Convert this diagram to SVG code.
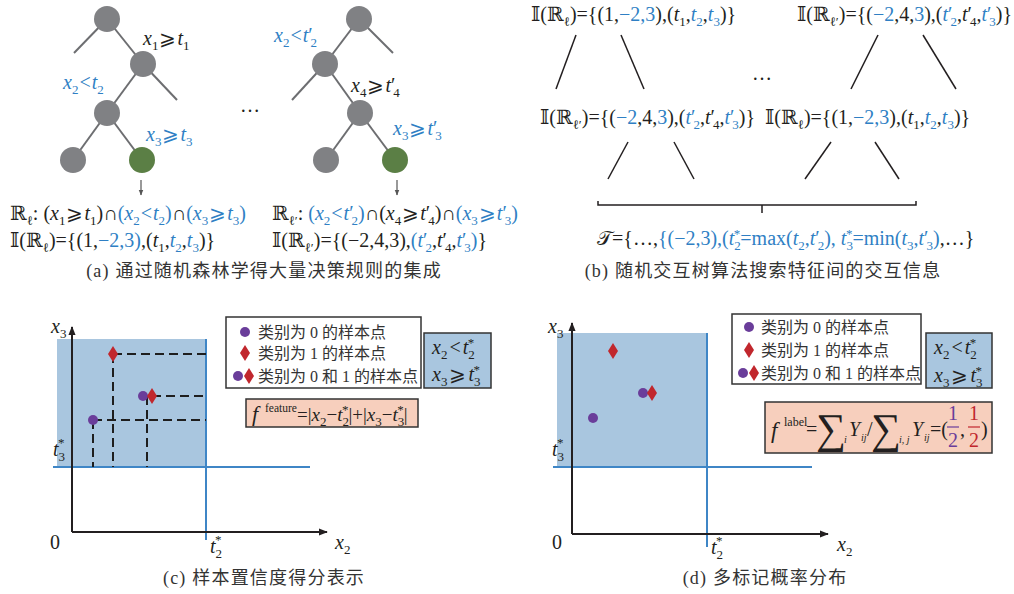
<svg xmlns="http://www.w3.org/2000/svg" width="1014" height="594" viewBox="0 0 1014 594">
<style>
.m{font-family:"Liberation Serif","DejaVu Serif",serif;font-size:20px;fill:#231f20}
.i{font-style:italic}
.s{font-size:13px}
.b{fill:#2f7fc4}
.cap{font-family:"Liberation Serif","Noto Sans CJK SC",serif;font-size:18px;fill:#333;letter-spacing:1.2px}
.lg{font-family:"Liberation Serif","Noto Sans CJK SC",serif;font-size:16px;fill:#333}
.node{fill:#808184}
.leaf{fill:#5b7f45}
.edge{stroke:#6d6e71;stroke-width:2;fill:none}
.ln{stroke:#231f20;stroke-width:1.5;fill:none}
.dash{stroke:#1e1e1e;stroke-width:2;stroke-dasharray:9 5;fill:none}
.area{fill:#a9c6df}
.bl{stroke:#3f86c6;stroke-width:2;fill:none}
.ax{stroke:#231f20;stroke-width:2;fill:none}
.p0{fill:#6a3d9a}
.p1{fill:#c1272d}
.box{stroke:#333;stroke-width:1.5}
</style>
<defs>
<marker id="ah" viewBox="0 0 10 10" refX="9" refY="5" markerUnits="userSpaceOnUse" markerWidth="9" markerHeight="9" orient="auto"><path d="M0,1 L10,5 L0,9 z" fill="#231f20"/></marker>
<marker id="ah2" viewBox="0 0 10 10" refX="9" refY="5" markerUnits="userSpaceOnUse" markerWidth="6" markerHeight="6" orient="auto"><path d="M0,1 L10,5 L0,9 z" fill="#555"/></marker>
</defs>

<g id="connectors">
<line class="edge" x1="107" y1="19" x2="74" y2="53"/>
<line class="edge" x1="107" y1="19" x2="143" y2="64"/>
<line class="edge" x1="143" y1="64" x2="107" y2="113"/>
<line class="edge" x1="143" y1="64" x2="177" y2="100"/>
<line class="edge" x1="107" y1="113" x2="73" y2="160"/>
<line class="edge" x1="107" y1="113" x2="142" y2="160"/>
<line class="edge" x1="359" y1="19" x2="325" y2="64"/>
<line class="edge" x1="359" y1="19" x2="393" y2="53"/>
<line class="edge" x1="325" y1="64" x2="292" y2="100"/>
<line class="edge" x1="325" y1="64" x2="360" y2="113"/>
<line class="edge" x1="360" y1="113" x2="326" y2="160"/>
<line class="edge" x1="360" y1="113" x2="395" y2="160"/>
<line stroke="#555" stroke-width="1.2" x1="141" y1="180" x2="141" y2="195" marker-end="url(#ah2)"/>
<line stroke="#555" stroke-width="1.2" x1="397" y1="180" x2="397" y2="195" marker-end="url(#ah2)"/>
<line class="ln" x1="576" y1="35" x2="556" y2="89"/>
<line class="ln" x1="621" y1="35" x2="644" y2="89"/>
<line class="ln" x1="878" y1="35" x2="851" y2="89"/>
<line class="ln" x1="923" y1="35" x2="956" y2="89"/>
<line class="ln" x1="628" y1="142" x2="608" y2="179"/>
<line class="ln" x1="674" y1="142" x2="694" y2="179"/>
<line class="ln" x1="831" y1="142" x2="805" y2="179"/>
<line class="ln" x1="875" y1="142" x2="899" y2="179"/>
<path class="ln" d="M598,201 V205 H916 V201 M762,205 V213"/>
</g>

<g id="t1-root"><circle class="node" cx="107" cy="19" r="13"/></g>
<g id="t1-n2"><circle class="node" cx="143" cy="64" r="13"/></g>
<g id="t1-n3"><circle class="node" cx="107" cy="113" r="13"/></g>
<g id="t1-l1"><circle class="node" cx="73" cy="160" r="13"/></g>
<g id="t1-l2"><circle class="leaf" cx="142" cy="160" r="13"/></g>
<g id="t2-root"><circle class="node" cx="359" cy="19" r="13"/></g>
<g id="t2-n2"><circle class="node" cx="325" cy="64" r="13"/></g>
<g id="t2-n3"><circle class="node" cx="360" cy="113" r="13"/></g>
<g id="t2-l1"><circle class="node" cx="326" cy="160" r="13"/></g>
<g id="t2-l2"><circle class="leaf" cx="395" cy="160" r="13"/></g>

<g id="tree-labels">
<text class="m" x="143" y="45"><tspan class="i">x</tspan><tspan class="s" dy="5">1</tspan><tspan dx="1" dy="-5">⩾</tspan><tspan class="i" dx="1">t</tspan><tspan class="s" dy="5">1</tspan></text>
<text class="m b" x="63" y="89"><tspan class="i">x</tspan><tspan class="s" dy="5">2</tspan><tspan dx="1" dy="-5">&lt;</tspan><tspan class="i" dx="1">t</tspan><tspan class="s" dy="5">2</tspan></text>
<text class="m b" x="146" y="141"><tspan class="i">x</tspan><tspan class="s" dy="5">3</tspan><tspan dx="1" dy="-5">⩾</tspan><tspan class="i" dx="1">t</tspan><tspan class="s" dy="5">3</tspan></text>
<text class="m b" x="274" y="42"><tspan class="i">x</tspan><tspan class="s" dy="5">2</tspan><tspan dx="1" dy="-5">&lt;</tspan><tspan class="i" dx="1">t</tspan>′<tspan class="s" dx="-2" dy="5">2</tspan></text>
<text class="m" x="351" y="92"><tspan class="i">x</tspan><tspan class="s" dy="5">4</tspan><tspan dx="1" dy="-5">⩾</tspan><tspan class="i" dx="1">t</tspan>′<tspan class="s" dx="-2" dy="5">4</tspan></text>
<text class="m b" x="393" y="135"><tspan class="i">x</tspan><tspan class="s" dy="5">3</tspan><tspan dx="1" dy="-5">⩾</tspan><tspan class="i" dx="1">t</tspan>′<tspan class="s" dx="-2" dy="5">3</tspan></text>
<text class="m" x="240" y="112">…</text>
</g>

<g id="rules-a">
<text class="m" x="10" y="220">ℝ<tspan class="s" dy="5">ℓ</tspan><tspan dy="-5">: (</tspan><tspan class="i">x</tspan><tspan class="s" dy="5">1</tspan><tspan dx="1" dy="-5">⩾</tspan><tspan class="i" dx="1">t</tspan><tspan class="s" dy="5">1</tspan><tspan dy="-5">)∩</tspan><tspan class="b">(<tspan class="i">x</tspan><tspan class="s" dy="5">2</tspan><tspan dx="1" dy="-5">&lt;</tspan><tspan class="i" dx="1">t</tspan><tspan class="s" dy="5">2</tspan><tspan dy="-5">)</tspan></tspan>∩<tspan class="b">(<tspan class="i">x</tspan><tspan class="s" dy="5">3</tspan><tspan dx="1" dy="-5">⩾</tspan><tspan class="i" dx="1">t</tspan><tspan class="s" dy="5">3</tspan><tspan dy="-5">)</tspan></tspan></text>
<text class="m" x="10" y="247">𝕀(ℝ<tspan class="s" dy="5">ℓ</tspan><tspan dy="-5">)={(1,</tspan><tspan class="b">−2,3)</tspan>,(<tspan class="i">t</tspan><tspan class="s" dy="5">1</tspan><tspan dy="-5">,</tspan><tspan class="b i">t</tspan><tspan class="b s" dy="5">2</tspan><tspan dy="-5">,</tspan><tspan class="b i">t</tspan><tspan class="b s" dy="5">3</tspan><tspan dy="-5">)}</tspan></text>
<text class="m" x="272" y="220">ℝ<tspan class="s" dy="5">ℓ′</tspan><tspan dy="-5">: </tspan><tspan class="b">(<tspan class="i">x</tspan><tspan class="s" dy="5">2</tspan><tspan dx="1" dy="-5">&lt;</tspan><tspan class="i" dx="1">t</tspan>′<tspan class="s" dx="-2" dy="5">2</tspan><tspan dy="-5">)</tspan></tspan>∩(<tspan class="i">x</tspan><tspan class="s" dy="5">4</tspan><tspan dx="1" dy="-5">⩾</tspan><tspan class="i" dx="1">t</tspan>′<tspan class="s" dx="-2" dy="5">4</tspan><tspan dy="-5">)∩</tspan><tspan class="b">(<tspan class="i">x</tspan><tspan class="s" dy="5">3</tspan><tspan dx="1" dy="-5">⩾</tspan><tspan class="i" dx="1">t</tspan>′<tspan class="s" dx="-2" dy="5">3</tspan><tspan dy="-5">)</tspan></tspan></text>
<text class="m" x="272" y="247">𝕀(ℝ<tspan class="s" dy="5">ℓ′</tspan><tspan dy="-5">)={(−2,4,3),</tspan><tspan class="b">(<tspan class="i">t</tspan>′<tspan class="s" dx="-2" dy="5">2</tspan></tspan><tspan dy="-5">,</tspan><tspan class="i">t</tspan>′<tspan class="s" dx="-2" dy="5">4</tspan><tspan dy="-5">,</tspan><tspan class="b"><tspan class="i">t</tspan>′<tspan class="s" dx="-2" dy="5">3</tspan><tspan dy="-5">)</tspan></tspan>}</text>
<text class="cap" x="264" y="277" text-anchor="middle">(a) 通过随机森林学得大量决策规则的集成</text>
</g>

<g id="b-top-left"><text class="m" x="531" y="21">𝕀(ℝ<tspan class="s" dy="5">ℓ</tspan><tspan dy="-5">)={(1,</tspan><tspan class="b">−2,3</tspan>),(<tspan class="i">t</tspan><tspan class="s" dy="5">1</tspan><tspan dy="-5">,</tspan><tspan class="b i">t</tspan><tspan class="b s" dy="5">2</tspan><tspan dy="-5">,</tspan><tspan class="b i">t</tspan><tspan class="b s" dy="5">3</tspan><tspan dy="-5">)}</tspan></text></g>
<g id="b-top-right"><text class="m" x="797" y="21">𝕀(ℝ<tspan class="s" dy="5">ℓ′</tspan><tspan dy="-5">)={(</tspan><tspan class="b">−2</tspan>,4,<tspan class="b">3</tspan>),(<tspan class="b"><tspan class="i">t</tspan>′<tspan class="s" dx="-2" dy="5">2</tspan></tspan><tspan dy="-5">,</tspan><tspan class="i">t</tspan>′<tspan class="s" dx="-2" dy="5">4</tspan><tspan dy="-5">,</tspan><tspan class="b"><tspan class="i">t</tspan>′<tspan class="s" dx="-2" dy="5">3</tspan></tspan><tspan dy="-5">)}</tspan></text></g>
<g id="b-bot-left"><text class="m" x="540" y="124">𝕀(ℝ<tspan class="s" dy="5">ℓ′</tspan><tspan dy="-5">)={(</tspan><tspan class="b">−2</tspan>,4,<tspan class="b">3</tspan>),(<tspan class="b"><tspan class="i">t</tspan>′<tspan class="s" dx="-2" dy="5">2</tspan></tspan><tspan dy="-5">,</tspan><tspan class="i">t</tspan>′<tspan class="s" dx="-2" dy="5">4</tspan><tspan dy="-5">,</tspan><tspan class="b"><tspan class="i">t</tspan>′<tspan class="s" dx="-2" dy="5">3</tspan></tspan><tspan dy="-5">)}</tspan></text></g>
<g id="b-bot-right"><text class="m" x="765" y="124">𝕀(ℝ<tspan class="s" dy="5">ℓ</tspan><tspan dy="-5">)={(1,</tspan><tspan class="b">−2,3</tspan>),(<tspan class="i">t</tspan><tspan class="s" dy="5">1</tspan><tspan dy="-5">,</tspan><tspan class="b i">t</tspan><tspan class="b s" dy="5">2</tspan><tspan dy="-5">,</tspan><tspan class="b i">t</tspan><tspan class="b s" dy="5">3</tspan><tspan dy="-5">)}</tspan></text></g>
<text class="m" x="752" y="80">…</text>
<g id="b-result"><text class="m" x="597" y="245">𝒯={…,<tspan class="b">{(−2,3),(<tspan class="i">t</tspan><tspan class="s" dy="5">2</tspan><tspan class="s" dx="-7" dy="-12">*</tspan><tspan dy="7">=max(</tspan><tspan class="i">t</tspan><tspan class="s" dy="5">2</tspan><tspan dy="-5">,</tspan><tspan class="i">t</tspan>′<tspan class="s" dx="-2" dy="5">2</tspan><tspan dy="-5">), </tspan><tspan class="i">t</tspan><tspan class="s" dy="5">3</tspan><tspan class="s" dx="-7" dy="-12">*</tspan><tspan dy="7">=min(</tspan><tspan class="i">t</tspan><tspan class="s" dy="5">3</tspan><tspan dy="-5">,</tspan><tspan class="i">t</tspan>′<tspan class="s" dx="-2" dy="5">3</tspan><tspan dy="-5">)</tspan></tspan>,…}</text></g>
<text class="cap" x="763" y="277" text-anchor="middle">(b) 随机交互树算法搜索特征间的交互信息</text>

<g id="plot-c">
<rect class="area" x="57" y="339" width="149" height="128"/>
<line class="bl" x1="206" y1="339" x2="206" y2="540"/>
<line class="bl" x1="53" y1="467" x2="310" y2="467"/>
<line class="ax" x1="72" y1="532" x2="72" y2="327" marker-end="url(#ah)"/>
<line class="ax" x1="72" y1="532" x2="327" y2="532" marker-end="url(#ah)"/>
<path class="dash" d="M113,354 H206 M113,354 V467 M152,396 H206 M147,396 V467 M93,420 H206 M93,420 V467"/>
<circle class="p0" cx="93" cy="420" r="5"/>
<polygon class="p1" points="113,346 118,354 113,362 108,354"/>
<circle class="p0" cx="143" cy="396" r="5"/>
<polygon class="p1" points="152,388 157,396 152,404 147,396"/>
<text class="m" x="51" y="333"><tspan class="i">x</tspan><tspan class="s" dy="5">3</tspan></text>
<text class="m" x="50" y="549">0</text>
<text class="m" x="53" y="456"><tspan class="i">t</tspan><tspan class="s" dy="5">3</tspan><tspan class="s" dx="-7" dy="-14">*</tspan></text>
<text class="m" x="210" y="553"><tspan class="i">t</tspan><tspan class="s" dy="5">2</tspan><tspan class="s" dx="-7" dy="-14">*</tspan></text>
<text class="m" x="335" y="549"><tspan class="i">x</tspan><tspan class="s" dy="5">2</tspan></text>
</g>
<g id="legend-c">
<rect class="box" x="226" y="317" width="195" height="71" fill="#fff"/>
<circle class="p0" cx="245" cy="332" r="5"/>
<polygon class="p1" points="245,345 250,353 245,361 240,353"/>
<circle class="p0" cx="238" cy="376" r="5"/>
<polygon class="p1" points="249,368 254,376 249,384 244,376"/>
<text class="lg" x="258" y="338">类别为 0 的样本点</text>
<text class="lg" x="258" y="359">类别为 1 的样本点</text>
<text class="lg" x="258" y="382">类别为 0 和 1 的样本点</text>
</g>
<g id="cond-c">
<rect class="box" x="424" y="333" width="67" height="55" fill="#a9c6df"/>
<text class="m" x="432" y="354"><tspan class="i">x</tspan><tspan class="s" dy="5">2</tspan><tspan dx="2" dy="-5">&lt;</tspan><tspan class="i" dx="2">t</tspan><tspan class="s" dy="5">2</tspan><tspan class="s" dx="-7" dy="-12">*</tspan></text>
<text class="m" x="432" y="381"><tspan class="i">x</tspan><tspan class="s" dy="5">3</tspan><tspan dx="2" dy="-5">⩾</tspan><tspan class="i" dx="2">t</tspan><tspan class="s" dy="5">3</tspan><tspan class="s" dx="-7" dy="-12">*</tspan></text>
</g>
<g id="formula-c">
<rect class="box" x="246" y="399" width="172" height="28" fill="#f7cfbd"/>
<text class="m" x="252" y="421" style="font-size:19px"><tspan class="i" style="font-size:22px">f</tspan><tspan x="265" dy="-9" style="font-size:11.5px">feature</tspan><tspan x="297" dy="9">=|</tspan><tspan class="i">x</tspan><tspan class="s" dy="5">2</tspan><tspan dy="-5">−</tspan><tspan class="i">t</tspan><tspan class="s" dy="5">2</tspan><tspan class="s" dx="-7" dy="-12">*</tspan><tspan dy="7">|+|</tspan><tspan class="i">x</tspan><tspan class="s" dy="5">3</tspan><tspan dy="-5">−</tspan><tspan class="i">t</tspan><tspan class="s" dy="5">3</tspan><tspan class="s" dx="-7" dy="-12">*</tspan><tspan dy="7">|</tspan></text>
</g>
<text class="cap" x="264" y="584" text-anchor="middle">(c) 样本置信度得分表示</text>

<g id="plot-d">
<rect class="area" x="557" y="333" width="150" height="134"/>
<line class="bl" x1="707" y1="333" x2="707" y2="547"/>
<line class="bl" x1="553" y1="467" x2="812" y2="467"/>
<line class="ax" x1="572" y1="534" x2="572" y2="323" marker-end="url(#ah)"/>
<line class="ax" x1="572" y1="534" x2="828" y2="534" marker-end="url(#ah)"/>
<polygon class="p1" points="613,343 618,351 613,359 608,351"/>
<circle class="p0" cx="643" cy="393" r="5"/>
<polygon class="p1" points="652,385 657,393 652,401 647,393"/>
<circle class="p0" cx="593" cy="418" r="5"/>
<text class="m" x="548" y="333"><tspan class="i">x</tspan><tspan class="s" dy="5">3</tspan></text>
<text class="m" x="552" y="549">0</text>
<text class="m" x="552" y="456"><tspan class="i">t</tspan><tspan class="s" dy="5">3</tspan><tspan class="s" dx="-7" dy="-14">*</tspan></text>
<text class="m" x="711" y="554"><tspan class="i">t</tspan><tspan class="s" dy="5">2</tspan><tspan class="s" dx="-7" dy="-14">*</tspan></text>
<text class="m" x="837" y="551"><tspan class="i">x</tspan><tspan class="s" dy="5">2</tspan></text>
</g>
<g id="legend-d">
<rect class="box" x="732" y="314" width="189" height="70" fill="#fff"/>
<circle class="p0" cx="749" cy="327" r="5"/>
<polygon class="p1" points="749,342 754,350 749,358 744,350"/>
<circle class="p0" cx="743" cy="373" r="5"/>
<polygon class="p1" points="754,365 759,373 754,381 749,373"/>
<text class="lg" x="761" y="333">类别为 0 的样本点</text>
<text class="lg" x="761" y="356">类别为 1 的样本点</text>
<text class="lg" x="761" y="379">类别为 0 和 1 的样本点</text>
</g>
<g id="cond-d">
<rect class="box" x="926" y="333" width="66" height="55" fill="#a9c6df"/>
<text class="m" x="934" y="354"><tspan class="i">x</tspan><tspan class="s" dy="5">2</tspan><tspan dx="2" dy="-5">&lt;</tspan><tspan class="i" dx="2">t</tspan><tspan class="s" dy="5">2</tspan><tspan class="s" dx="-7" dy="-12">*</tspan></text>
<text class="m" x="934" y="382"><tspan class="i">x</tspan><tspan class="s" dy="5">3</tspan><tspan dx="2" dy="-5">⩾</tspan><tspan class="i" dx="2">t</tspan><tspan class="s" dy="5">3</tspan><tspan class="s" dx="-7" dy="-12">*</tspan></text>
</g>
<g id="formula-d">
<rect class="box" x="765" y="402" width="227" height="51" fill="#f7cfbd"/>
<text class="m i" x="771" y="438" style="font-size:23px">f</text>
<text class="m" x="784" y="426" style="font-size:12px">label</text>
<text class="m" x="806" y="436">=</text>
<text class="m" x="816" y="443" style="font-size:42px">∑</text>
<text class="m i" x="844" y="443" style="font-size:10px">i</text>
<text class="m i" x="849" y="436">Y</text>
<text class="m i" x="861" y="441" style="font-size:10px">ij</text>
<text class="m" x="867" y="436">/</text>
<text class="m" x="871" y="443" style="font-size:42px">∑</text>
<text class="m i" x="899" y="443" style="font-size:10px">i, j</text>
<text class="m i" x="912" y="436">Y</text>
<text class="m i" x="924" y="441" style="font-size:10px">ij</text>
<text class="m" x="930" y="436">=(</text>
<text class="m" x="953" y="420" text-anchor="middle" style="fill:#6a3d9a">1</text>
<line x1="947" y1="427" x2="959" y2="427" stroke="#6a3d9a" stroke-width="1.2"/>
<text class="m" x="953" y="447" text-anchor="middle" style="fill:#6a3d9a">2</text>
<text class="m" x="960" y="436">,</text>
<text class="m" x="974" y="420" text-anchor="middle" style="fill:#c1272d">1</text>
<line x1="968" y1="427" x2="980" y2="427" stroke="#c1272d" stroke-width="1.2"/>
<text class="m" x="974" y="447" text-anchor="middle" style="fill:#c1272d">2</text>
<text class="m" x="981" y="436">)</text>
</g>
<text class="cap" x="765" y="584" text-anchor="middle">(d) 多标记概率分布</text>
</svg>
